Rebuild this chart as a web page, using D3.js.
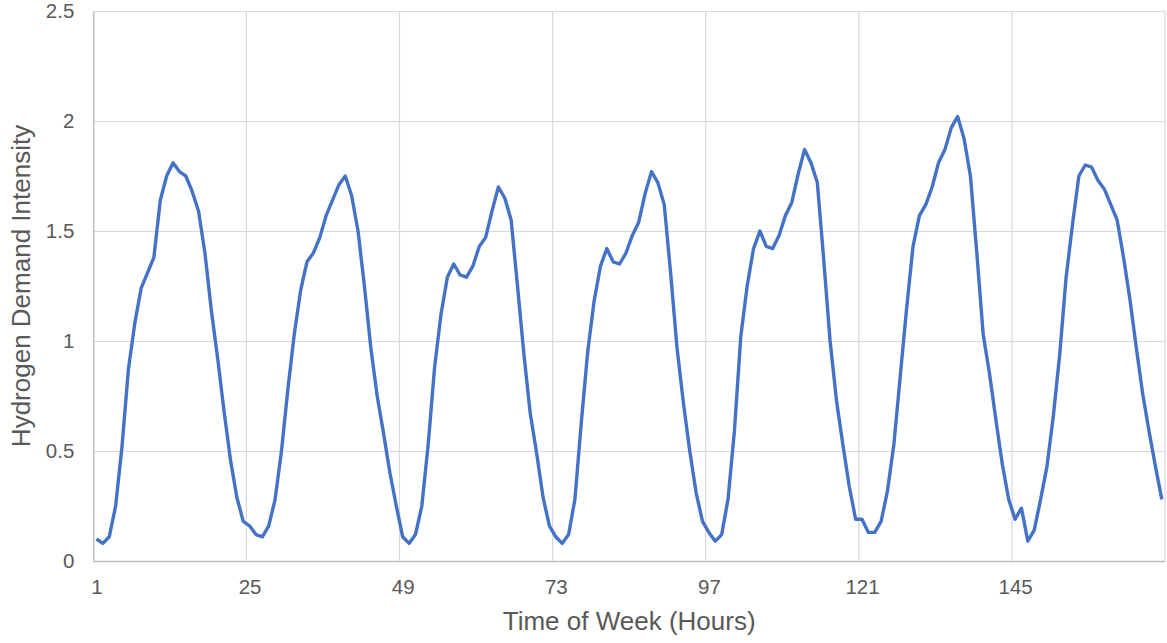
<!DOCTYPE html>
<html>
<head>
<meta charset="utf-8">
<script src="https://cdn.jsdelivr.net/npm/d3@7"></script>
<style>
  body { margin: 0; background: #fff; }
  svg text { font-family: "Liberation Sans", Arial, sans-serif; fill: #595959; }
</style>
</head>
<body>
<svg id="chart" width="1167" height="643"></svg>
<script>

// hourly demand intensity, one array per day of the week
let day1 = [0.10, 0.08, 0.11, 0.25, 0.52, 0.87, 1.08, 1.24, 1.31, 1.38, 1.64, 1.75, 1.81, 1.77, 1.75, 1.68, 1.59, 1.40, 1.14, 0.92, 0.68, 0.46, 0.29, 0.18];
let day2 = [0.16, 0.12, 0.11, 0.16, 0.28, 0.50, 0.78, 1.03, 1.23, 1.36, 1.40, 1.47, 1.57, 1.64, 1.71, 1.75, 1.66, 1.50, 1.25, 0.97, 0.75, 0.58, 0.40, 0.25];
let day3 = [0.11, 0.08, 0.12, 0.25, 0.53, 0.88, 1.12, 1.29, 1.35, 1.30, 1.29, 1.34, 1.43, 1.47, 1.59, 1.70, 1.65, 1.55, 1.25, 0.94, 0.67, 0.49, 0.29, 0.16];
let day4 = [0.11, 0.08, 0.12, 0.28, 0.63, 0.95, 1.18, 1.34, 1.42, 1.36, 1.35, 1.40, 1.48, 1.54, 1.67, 1.77, 1.72, 1.62, 1.31, 0.97, 0.72, 0.50, 0.31, 0.18];
let day5 = [0.13, 0.09, 0.12, 0.28, 0.59, 1.02, 1.25, 1.42, 1.50, 1.43, 1.42, 1.48, 1.57, 1.63, 1.76, 1.87, 1.81, 1.72, 1.37, 1.00, 0.73, 0.53, 0.34, 0.19];
let day6 = [0.19, 0.13, 0.13, 0.18, 0.32, 0.53, 0.84, 1.15, 1.43, 1.57, 1.62, 1.70, 1.81, 1.87, 1.97, 2.02, 1.92, 1.75, 1.40, 1.03, 0.85, 0.64, 0.44, 0.28];
let day7 = [0.19, 0.24, 0.09, 0.14, 0.28, 0.43, 0.66, 0.94, 1.29, 1.53, 1.75, 1.80, 1.79, 1.73, 1.69, 1.62, 1.55, 1.38, 1.19, 0.97, 0.76, 0.59, 0.43, 0.28];

let xTickLabels = [1, 25, 49, 73, 97, 121, 145];
let yTickValues = [0, 0.5, 1, 1.5, 2, 2.5];

let demand = [].concat(day1, day2, day3, day4, day5, day6, day7);
let series = demand.map((v, i) => ({ hour: i + 1, value: v }));

let margin = { top: 11, right: 2, bottom: 82, left: 93.3 };
let width = 1167, height = 643;
let svg = d3.select("#chart");

// category axis: each hour is a band, point sits in its middle
let xScale = d3.scaleLinear()
               .domain([0.5, series.length + 0.5])
               .range([margin.left, width - margin.right]);
let yScale = d3.scaleLinear()
               .domain([0, 2.5])
               .range([height - margin.bottom, margin.top]);

// horizontal gridlines
svg.append("g")
   .attr("id", "yGrid")
   .selectAll("line")
   .data(yTickValues.slice(1))
   .join("line")
   .attr("x1", margin.left)
   .attr("x2", width - margin.right)
   .attr("y1", d => Math.round(yScale(d)) + 0.5)
   .attr("y2", d => Math.round(yScale(d)) + 0.5)
   .attr("stroke", "#d9d9d9")
   .attr("stroke-width", 1.2);

// vertical gridlines on the band edges every 24 hours
svg.append("g")
   .attr("id", "xGrid")
   .selectAll("line")
   .data(xTickLabels.slice(1).concat([series.length + 1]))
   .join("line")
   .attr("x1", d => xScale(d - 0.5))
   .attr("x2", d => xScale(d - 0.5))
   .attr("y1", margin.top)
   .attr("y2", height - margin.bottom)
   .attr("stroke", "#d9d9d9")
   .attr("stroke-width", 1.2);

// axes
let xAxis = d3.axisBottom(xScale)
              .tickValues(xTickLabels)
              .tickSize(0)
              .tickPadding(18);
let yAxis = d3.axisLeft(yScale)
              .tickValues(yTickValues)
              .tickFormat(d3.format("~g"))
              .tickSize(0)
              .tickPadding(19);

let xAxisG = svg.append("g")
                .attr("transform", "translate(0," + (height - margin.bottom) + ")")
                .call(xAxis);
let yAxisG = svg.append("g")
                .attr("transform", "translate(" + margin.left + ",0)")
                .call(yAxis);

xAxisG.select(".domain").attr("stroke", "#bfbfbf").attr("stroke-width", 1.5);
yAxisG.select(".domain").attr("stroke", "#bfbfbf").attr("stroke-width", 1.5);
xAxisG.selectAll("text").style("font-size", "20.5px").style("fill", "#595959");
yAxisG.selectAll("text").style("font-size", "20.5px").style("fill", "#595959");

// demand line
let line = d3.line()
             .x(d => xScale(d.hour))
             .y(d => yScale(d.value));

svg.append("path")
   .datum(series)
   .attr("d", line)
   .attr("fill", "none")
   .attr("stroke", "#4472c4")
   .attr("stroke-width", 3.4)
   .attr("stroke-linejoin", "round");

// axis titles
svg.append("text")
   .attr("x", (margin.left + width - margin.right) / 2)
   .attr("y", 630)
   .attr("text-anchor", "middle")
   .style("font-size", "26px")
   .text("Time of Week (Hours)");

svg.append("text")
   .attr("transform", "translate(30," + ((margin.top + height - margin.bottom) / 2) + ") rotate(-90)")
   .attr("text-anchor", "middle")
   .style("font-size", "26px")
   .text("Hydrogen Demand Intensity");

</script>
</body>
</html>
